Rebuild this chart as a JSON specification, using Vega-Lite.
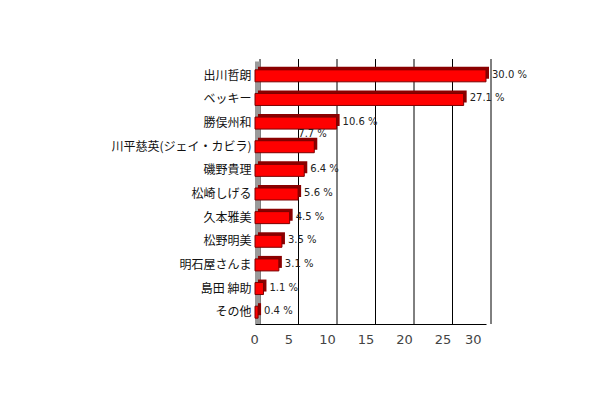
{
  "$schema": "https://vega.github.io/schema/vega-lite/v6.json",
  "autosize": "none",
  "width": 231,
  "height": 260,
  "padding": {"left": 255, "top": 64, "right": 129, "bottom": 76},
  "background": "white",
  "datasets": {
    "votes": [
      {"name": "出川哲朗", "pct": 30.0},
      {"name": "ベッキー", "pct": 27.1},
      {"name": "勝俣州和", "pct": 10.6},
      {"name": "川平慈英(ジェイ・カビラ)", "pct": 7.7},
      {"name": "磯野貴理", "pct": 6.4},
      {"name": "松崎しげる", "pct": 5.6},
      {"name": "久本雅美", "pct": 4.5},
      {"name": "松野明美", "pct": 3.5},
      {"name": "明石屋さんま", "pct": 3.1},
      {"name": "島田 紳助", "pct": 1.1},
      {"name": "その他", "pct": 0.4}
    ],
    "gridlines": [{"v": 0}, {"v": 5}, {"v": 10}, {"v": 15}, {"v": 20}, {"v": 25}, {"v": 30}]
  },
  "layer": [
    {
      "data": {"name": "gridlines"},
      "mark": {"type": "rule", "color": "black", "strokeWidth": 1, "xOffset": 5, "yOffset": -5},
      "encoding": {
        "x": {
          "field": "v", "type": "quantitative",
          "scale": {"domain": [0, 30], "nice": false},
          "axis": {"title": null, "values": [0, 5, 10, 15, 20, 25, 30], "labelOverlap": false, "grid": false, "ticks": false}
        }
      }
    },
    {
      "data": {"name": "gridlines"},
      "transform": [{"filter": "datum.v == 0"}],
      "mark": {"type": "rule", "color": "#9a9a9a", "strokeWidth": 5, "xOffset": 2.5, "yOffset": -2.5},
      "encoding": {
        "x": {"field": "v", "type": "quantitative", "axis": {"title": null, "values": [0, 5, 10, 15, 20, 25, 30], "labelOverlap": false, "grid": false, "ticks": false}}
      }
    },
    {
      "data": {"name": "votes"},
      "mark": {"type": "bar", "size": 12, "color": "#8b0000", "xOffset": 3, "x2Offset": 3, "yOffset": -3, "y2Offset": -3},
      "encoding": {
        "y": {"field": "name", "type": "nominal", "sort": null, "scale": {"paddingInner": 0, "paddingOuter": 0}},
        "x": {"field": "pct", "type": "quantitative", "axis": {"title": null, "values": [0, 5, 10, 15, 20, 25, 30], "labelOverlap": false, "grid": false, "ticks": false}}
      }
    },
    {
      "data": {"name": "votes"},
      "mark": {"type": "bar", "size": 12, "color": "#ff0000", "stroke": "#7a0000", "strokeWidth": 1},
      "encoding": {
        "y": {
          "field": "name", "type": "nominal", "sort": null,
          "scale": {"paddingInner": 0, "paddingOuter": 0},
          "axis": {"title": null, "ticks": false, "domain": false, "labelPadding": 4, "labelFontSize": 12, "labelColor": "#111111", "labelFont": "Noto Sans CJK JP"}
        },
        "x": {"field": "pct", "type": "quantitative", "axis": {"title": null, "values": [0, 5, 10, 15, 20, 25, 30], "labelOverlap": false, "grid": false, "ticks": false}}
      }
    },
    {
      "data": {"name": "votes"},
      "transform": [
        {"filter": "datum.name != '川平慈英(ジェイ・カビラ)'"},
        {"calculate": "format(datum.pct, '.1f') + ' %'", "as": "label"}
      ],
      "mark": {"type": "text", "align": "left", "baseline": "middle", "dx": 6, "dy": -1, "fontSize": 10, "font": "DejaVu Sans", "color": "#222222"},
      "encoding": {
        "y": {"field": "name", "type": "nominal", "sort": null},
        "x": {"field": "pct", "type": "quantitative", "axis": {"title": null, "values": [0, 5, 10, 15, 20, 25, 30], "labelOverlap": false, "grid": false, "ticks": false}},
        "text": {"field": "label", "type": "nominal"}
      }
    },
    {
      "data": {"name": "votes"},
      "transform": [
        {"filter": "datum.name == '川平慈英(ジェイ・カビラ)'"},
        {"calculate": "format(datum.pct, '.1f') + ' %'", "as": "label"}
      ],
      "mark": {"type": "text", "align": "left", "baseline": "middle", "dx": -16, "dy": -13, "fontSize": 10, "font": "DejaVu Sans", "color": "#222222"},
      "encoding": {
        "y": {"field": "name", "type": "nominal", "sort": null},
        "x": {"field": "pct", "type": "quantitative", "axis": {"title": null, "values": [0, 5, 10, 15, 20, 25, 30], "labelOverlap": false, "grid": false, "ticks": false}},
        "text": {"field": "label", "type": "nominal"}
      }
    }
  ],
  "config": {
    "view": {"stroke": null},
    "font": "Noto Sans CJK JP",
    "axisX": {"domainColor": "black", "labelFontSize": 13, "labelColor": "#444444", "labelPadding": 9, "labelOffset": -5, "labelFont": "DejaVu Sans"}
  }
}
